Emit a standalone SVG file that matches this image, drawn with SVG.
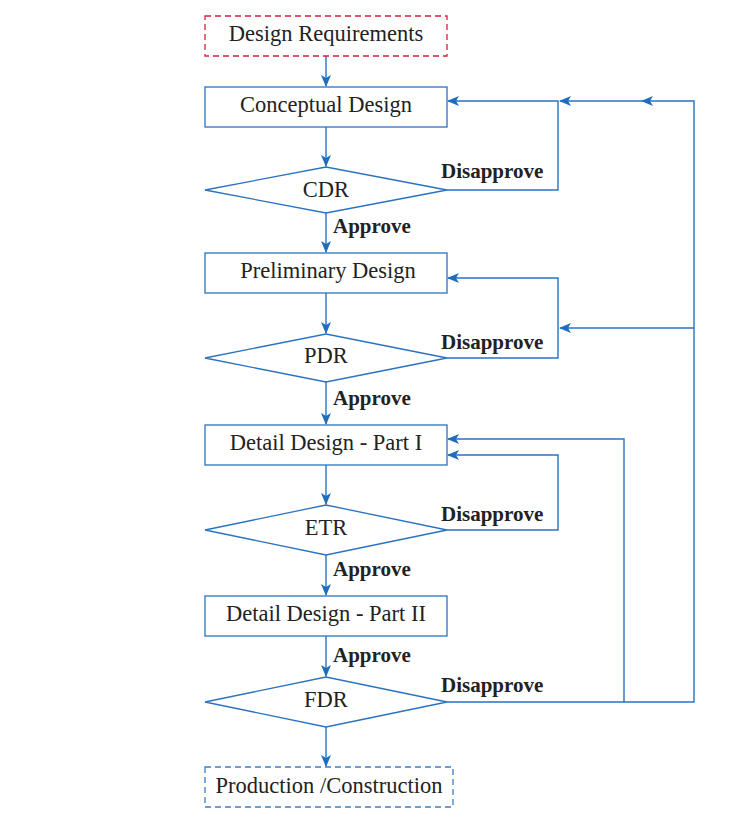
<svg xmlns="http://www.w3.org/2000/svg" width="729" height="825" viewBox="0 0 729 825">
<defs>
<marker id="ah" viewBox="0 0 12 10" refX="11" refY="5" markerWidth="12" markerHeight="10" markerUnits="userSpaceOnUse" orient="auto">
<path d="M0,0 L12,5 L0,10 L3,5 Z" fill="#1f6dbd"/>
</marker>
<style>
.box{fill:#fff;stroke:#2a72c0;stroke-width:1.3}
.dr{fill:#fff;stroke:#d11f3a;stroke-width:1.3;stroke-dasharray:6,4}
.db{fill:#fff;stroke:#3a7fc6;stroke-width:1.3;stroke-dasharray:6,4}
.t{font-family:"Liberation Serif",serif;font-size:22.5px;fill:#222;text-anchor:middle}
.l{font-family:"Liberation Serif",serif;font-size:21px;font-weight:bold;fill:#222}
.c{fill:none;stroke:#2a72c0;stroke-width:1.4;marker-end:url(#ah)}
</style>
</defs>
<rect width="729" height="825" fill="#fff"/>
<g id="connectors">
<path class="c" d="M326,56 V86"/>
<path class="c" d="M326,127 V166"/>
<path class="c" d="M326,213 V252"/>
<path class="c" d="M326,293 V333"/>
<path class="c" d="M326,382 V424"/>
<path class="c" d="M326,465 V504"/>
<path class="c" d="M326,555 V595"/>
<path class="c" d="M326,636 V676"/>
<path class="c" d="M326,727 V766"/>
<path class="c" d="M447,190 H558 V101 H448"/>
<path class="c" d="M447,702 H694 V101 H642"/>
<path class="c" d="M642,101 H560"/>
<path class="c" d="M447,358 H558 V278 H448"/>
<path class="c" d="M694,328 H560"/>
<path class="c" d="M447,530 H558 V455 H448"/>
<path class="c" d="M624,702 V439 H448"/>
</g>
<g id="design-requirements"><rect class="dr" x="205" y="16" width="242" height="40"/><text class="t" x="326" y="41">Design Requirements</text></g>
<g id="conceptual-design"><rect class="box" x="205" y="87" width="242" height="40"/><text class="t" x="326" y="112">Conceptual Design</text></g>
<g id="cdr"><polygon class="box" points="205,190 326,167 447,190 326,213"/><text class="t" x="326" y="197">CDR</text></g>
<g id="preliminary-design"><rect class="box" x="205" y="253" width="242" height="40"/><text class="t" x="328" y="278">Preliminary Design</text></g>
<g id="pdr"><polygon class="box" points="205,358 326,334 447,358 326,382"/><text class="t" x="326" y="363">PDR</text></g>
<g id="detail-design-1"><rect class="box" x="205" y="425" width="242" height="40"/><text class="t" x="326" y="450">Detail Design - Part I</text></g>
<g id="etr"><polygon class="box" points="205,530 326,505 447,530 326,555"/><text class="t" x="326" y="535">ETR</text></g>
<g id="detail-design-2"><rect class="box" x="205" y="596" width="242" height="40"/><text class="t" x="326" y="621">Detail Design - Part II</text></g>
<g id="fdr"><polygon class="box" points="205,702 326,677 447,702 326,727"/><text class="t" x="326" y="707">FDR</text></g>
<g id="production"><rect class="db" x="205" y="767" width="248" height="40"/><text class="t" x="329" y="793">Production /Construction</text></g>
<g id="labels">
<text class="l" x="441" y="178">Disapprove</text>
<text class="l" x="441" y="349">Disapprove</text>
<text class="l" x="441" y="521">Disapprove</text>
<text class="l" x="441" y="692">Disapprove</text>
<text class="l" x="333" y="233">Approve</text>
<text class="l" x="333" y="405">Approve</text>
<text class="l" x="333" y="576">Approve</text>
<text class="l" x="333" y="662">Approve</text>
</g>
</svg>
